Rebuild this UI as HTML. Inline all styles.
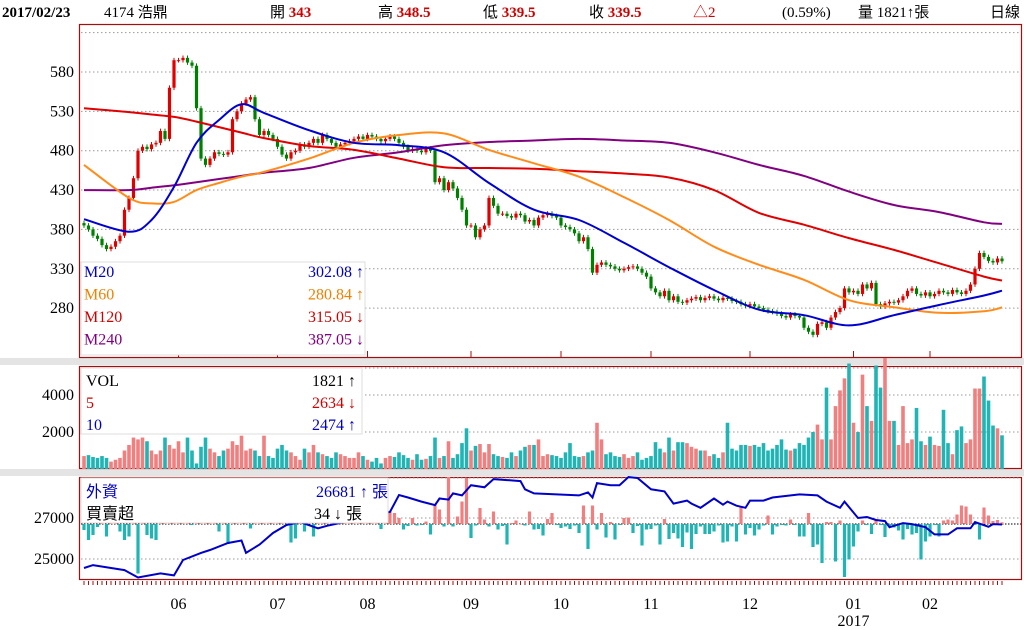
<!DOCTYPE html>
<html><head><meta charset="utf-8">
<style>
body{margin:0;background:#fff;width:1024px;height:630px;overflow:hidden}
svg{display:block}
.hd{font-family:"Liberation Serif","Noto Sans CJK TC",serif;font-size:15px}
.sr{font-family:"Liberation Serif","Noto Sans CJK TC",serif;font-size:16px}
</style></head>
<body>
<svg id="c" width="1024" height="630" viewBox="0 0 1024 630"></svg>
<script>
const closes=[385,380,372,368,360,355,358,365,372,405,
420,445,480,485,482,488,490,505,495,560,
595,595,598,592,588,534,470,462,470,478,
476,475,478,520,530,540,545,548,520,500,
505,500,495,485,475,470,478,480,488,485,
490,495,490,500,495,490,485,488,490,492,
495,498,495,500,498,495,492,495,498,495,
490,485,480,482,480,478,483,480,440,445,
430,440,432,420,405,385,385,370,380,385,
420,410,400,400,397,395,400,398,390,392,
385,395,398,400,397,395,385,383,380,375,
365,370,355,325,335,338,335,333,330,328,
330,332,333,330,325,320,305,300,295,302,
290,295,288,287,290,292,294,290,293,295,
292,290,293,292,289,288,285,283,285,282,
280,278,276,275,273,270,268,272,270,268,
255,250,246,260,262,255,268,275,280,305,
300,302,298,310,305,312,285,282,286,288,
287,290,295,302,305,298,296,300,295,298,
302,300,298,303,300,298,302,310,330,350,
345,340,338,343,339.5];
const volumes=[700,750,650,600,700,600,400,500,600,1000,
1300,1700,1600,1700,1500,1000,800,1000,1700,1300,
1100,1500,900,1700,1000,300,1200,1700,1100,900,
700,1000,1100,1500,1300,1800,1000,1100,1000,700,
1800,700,600,1100,1300,1000,900,700,500,1100,
900,1300,900,800,700,600,900,800,700,600,
600,900,700,500,400,600,300,600,700,650,
900,750,600,500,800,500,550,700,1700,600,
700,1500,600,800,1400,2200,1000,1250,1350,900,
1350,800,700,650,600,900,700,1000,1200,1300,
1300,1600,700,800,750,700,600,900,1400,700,
650,700,900,1000,2500,1600,800,900,700,650,
800,600,700,900,500,600,700,1450,1100,900,
1700,1000,1450,1450,1400,1200,1100,1000,1000,700,
800,600,900,2500,1100,1000,1300,1300,1250,1300,
1200,1400,1000,1100,1300,1600,1050,1000,1100,1400,
1300,1700,2000,2400,1600,4400,1600,3400,4250,4900,
5700,2500,2000,5100,3400,2600,5600,4400,6000,2600,
2600,1300,3400,1400,1600,3300,1500,1300,1750,1300,
1250,3200,1400,800,2100,2300,1400,1600,4350,4350,
5000,3700,2350,2200,1821];
const netBuy=[-120,-320,-220,-60,80,-250,120,60,-150,-320,
-250,150,-990,100,-220,-290,-320,200,300,500,
400,150,250,100,-20,80,300,150,50,100,
-150,60,-400,200,300,100,50,-90,150,200,
250,100,50,200,150,-20,-370,-290,60,-150,
120,-250,50,80,100,300,200,150,250,100,
200,300,150,100,200,300,-100,80,250,220,
120,-110,-40,120,-30,-20,50,-210,390,290,
-50,940,-50,150,450,920,-280,-30,320,90,
-50,250,-110,-40,-410,20,70,0,-30,250,
-110,-100,-230,100,220,-20,-80,-50,-100,-30,
-180,370,-500,370,-110,220,-270,40,-310,-20,
120,130,-180,-40,-430,-110,-100,-30,-410,100,
-300,-180,-290,-460,-170,-500,-200,-50,-200,-200,
-150,-30,-370,-350,-50,-350,350,-210,-80,-230,
-110,-30,170,-210,-50,-20,-30,90,-20,-250,
-250,220,-460,-410,-780,40,40,-750,70,-1060,
-710,-450,-150,70,-20,-200,70,-20,-260,-50,
-70,-130,-310,-100,-210,-180,-710,-350,-250,-20,
-250,70,90,70,190,370,350,190,-20,-310,
330,170,60,80,34];
const holdIdx=[0,2,9,12,17,20,22,26,28,32,35,36,39,42,45,48,52,54,60,64,68,70,72,75,78,79,81,82,84,86,89,91,94,97,98,100,105,110,112,113,114,117,119,121,123,126,129,131,134,135,137,140,142,143,145,147,148,151,153,159,163,165,168,169,172,174,176,178,179,182,184,187,189,192,194,197,198,201,202,204];
const holdVal=[24560,24700,24460,24100,24300,24200,24950,25300,25440,25780,25900,25300,25700,26270,26660,26800,26500,26620,26900,27100,27300,28120,28000,27800,27630,27950,27900,28200,28100,28600,28500,28900,28850,28800,28400,28200,28150,28100,28250,28000,28700,28600,28600,29000,28950,28400,28300,27700,27850,27700,27500,27950,27650,27800,27600,27500,27850,27850,28000,28150,28100,27800,27500,27800,27000,27050,26900,26850,26550,26750,26700,26550,26200,26200,26500,26500,26800,26570,26700,26681];
const maIdx=[0,10,15,20,25,30,35,40,50,60,70,80,90,100,110,120,130,140,150,160,170,180,190,200,204];
const ma20=[393,377,392,434,490,519,539,528,506,490,487,478,439,405,392,363,332,303,278,271,258,271,284,296,302.08];
const ma60=[462,420,413,415,430,439,447,453,470,490,500,502,481,464,447,421,392,358,335,316,290,281,274,276,280.84];
const ma120=[534,529,526,523,517,510,503,496,486,481,470,459,458,457,454,451,446,430,401,386,369,354,337,320,315.05];
const ma240=[430,430,433,436,440,444,448,452,458,471,478,487,491,493,495,493,490,478,462,448,428,411,402,389,387.05];
const priceTicks=[580,530,480,430,380,330,280];
const volTicks=[4000,2000];
const holdTicks=[27000,25000];
const monthLabels=['06','07','08','09','10','11','12','01','02'];
const monthIdx=[21,43,63,86,106,126,148,171,188];

const NS='http://www.w3.org/2000/svg';
const svg=document.getElementById('c');
function mk(tag,attrs,parent){const e=document.createElementNS(NS,tag);for(const k in attrs)e.setAttribute(k,attrs[k]);(parent||svg).appendChild(e);return e;}
const X=i=>84+i*4.5;
const yP=p=>72+(580-p)*0.787;
const yV=v=>469-v*0.0185;
const yN=n=>524-n*0.05;
const yH=h=>518-(h-27000)*0.0205;

let g=mk('rect',{x:0,y:358,width:1024,height:7,fill:'#e4e4e4'});


g=mk('rect',{x:0,y:469,width:1024,height:7,fill:'#e4e4e4'});



const panels=[['price-panel',24,357],['volume-panel',366,468],['foreign-panel',477,579]];
panels.forEach(p=>{const r=mk('rect',{x:79.5,y:p[1]+.5,width:942,height:p[2]-p[1],fill:'#fff',stroke:'#a01010','stroke-width':1.2});

});

function grid(y){const l=mk('line',{x1:81,x2:1021,y1:y,y2:y,stroke:'#999','stroke-dasharray':'1.5,2.5'});

}
function ylab(t,y){const e=mk('text',{x:74,y:y+5,'text-anchor':'end',class:'sr',fill:'#000'});e.textContent=t;

}
grid(yP(630));
priceTicks.forEach(p=>{grid(yP(p));ylab(p,yP(p));});
grid(368);
volTicks.forEach(v=>{grid(yV(v));ylab(v,yV(v));});
grid(478);
holdTicks.forEach(h=>{grid(yH(h));ylab(h,yH(h));});

const cg=mk('g',{});


closes.forEach((c,i)=>{
  const o=i>0?closes[i-1]:c+3;
  const up=c>=o; const col=up?'#e00000':'#008000';
  const hi=Math.max(o,c)+3, lo=Math.min(o,c)-3;
  const w=mk('line',{x1:X(i),x2:X(i),y1:yP(hi),y2:yP(lo),stroke:col,'stroke-width':1},cg);
  
  
  const t=Math.min(yP(o),yP(c)),h=Math.max(1,Math.abs(yP(o)-yP(c)));
  const b=mk('rect',{x:X(i)-1.6,y:t,width:3.2,height:h,fill:col},cg);
  
  
});

function smooth(pts){
  let d='M'+pts[0][0].toFixed(1)+','+pts[0][1].toFixed(1);
  for(let k=0;k<pts.length-1;k++){
    const p0=pts[Math.max(k-1,0)],p1=pts[k],p2=pts[k+1],p3=pts[Math.min(k+2,pts.length-1)];
    const c1=[p1[0]+(p2[0]-p0[0])/6,p1[1]+(p2[1]-p0[1])/6];
    const c2=[p2[0]-(p3[0]-p1[0])/6,p2[1]-(p3[1]-p1[1])/6];
    d+=' C'+c1[0].toFixed(1)+','+c1[1].toFixed(1)+' '+c2[0].toFixed(1)+','+c2[1].toFixed(1)+' '+p2[0].toFixed(1)+','+p2[1].toFixed(1);
  }
  return d;
}
function maLine(arr,col,name){
  const pts=arr.map((v,k)=>[X(maIdx[k]),yP(v)]);
  const l=mk('path',{d:smooth(pts),fill:'none',stroke:col,'stroke-width':2,'stroke-linejoin':'round'});
  
  
}
maLine(ma240,'#800080','ma240-line');
maLine(ma120,'#e00000','ma120-line');
maLine(ma60,'#ff8c1a','ma60-line');
maLine(ma20,'#0000d0','ma20-line');

monthIdx.forEach(i=>{const t=mk('line',{x1:X(i),x2:X(i),y1:351,y2:357,stroke:'#a01010'});

});

volumes.forEach((v,i)=>{
  const up=i===0||closes[i]>=closes[i-1];
  const b=mk('rect',{x:X(i)-1.8,y:yV(v),width:3.6,height:469-yV(v),fill:up?'#f08080':'#20b4b4'});
  
  
});

const zl=mk('line',{x1:81,x2:1021,y1:524,y2:524,stroke:'#000','stroke-dasharray':'1.5,1.5'});


netBuy.forEach((n,i)=>{
  const y0=Math.min(yN(n),524),h=Math.abs(yN(n)-524);
  const b=mk('rect',{x:X(i)-1.6,y:y0,width:3.2,height:Math.max(h,0.5),fill:n>=0?'#f08080':'#20b4b4'});
  
  
});
const hl=mk('polyline',{points:holdVal.map((v,k)=>X(holdIdx[k]).toFixed(1)+','+yH(v).toFixed(1)).join(' '),fill:'none',stroke:'#0000c8','stroke-width':2});



closes.forEach((c,i)=>{const t=mk('line',{x1:X(i),x2:X(i),y1:581,y2:585,stroke:'#a01010','stroke-width':1});

});
monthLabels.forEach((m,k)=>{const t=mk('text',{x:X(monthIdx[k]),y:609,'text-anchor':'middle',class:'sr',fill:'#000'});t.textContent=m;

});
const yr=mk('text',{x:X(171),y:626,'text-anchor':'middle',class:'sr',fill:'#000'});yr.textContent='2017';



function box(x,y,w,h,name){const r=mk('rect',{x:x,y:y,width:w,height:h,fill:'#fff',stroke:'#ddd'});

}
function txt(x,y,s,col,anchor,name){const e=mk('text',{x:x,y:y,class:'sr',fill:col,'text-anchor':anchor||'start'});e.textContent=s;

return e;}
box(81,262,284,93,'ma-legend');
[['M20','302.08 ↑','#0000c0'],['M60','280.84 ↑','#f08000'],['M120','315.05 ↓','#d00000'],['M240','387.05 ↓','#800080']].forEach((r,k)=>{
  txt(84,277+k*22.5,r[0],r[2],'start','legend-label');
  txt(364,277+k*22.5,r[1],r[2],'end','legend-value');
});
box(81,368,281,66,'volume-legend');
[['VOL','1821 ↑','#000'],['5','2634 ↓','#d00000'],['10','2474 ↑','#0000c0']].forEach((r,k)=>{
  txt(86,386+k*22,r[0],r[2],'start','legend-label');
  txt(356,386+k*22,r[1],r[2],'end','legend-value');
});
box(81,478,307,45,'foreign-legend');
txt(86,497,'外資','#0000c0','start','legend-label');
txt(86,519,'買賣超','#000','start','legend-label');
txt(388,497,'26681 ↑ 張','#0000c0','end','legend-value');
txt(362,519,'34 ↓ 張','#000','end','legend-value');

const H=[[2,'2017/02/23','#000',true],[104,'4174 浩鼎','#000',false],[270,'開 ','#000',false],[378,'高 ','#000',false],[483,'低 ','#000',false],[589,'收 ','#000',false],[693,'△2','#d00000',false],[782,'(0.59%)','#000',false],[858,'量 1821↑張','#000',false],[990,'日線','#000',false]];
const vals={'開 ':'343','高 ':'348.5','低 ':'339.5','收 ':'339.5'};
H.forEach(h=>{const t=mk('text',{x:h[0],y:17,class:'hd',fill:h[2]});
  if(h[3])t.setAttribute('font-weight','bold');
  t.textContent=h[1];
  if(vals[h[1]]){const s=mk('tspan',{fill:'#d00000','font-weight':'bold'},t);s.textContent=vals[h[1]];}
  
  
});
</script>
</body></html>
